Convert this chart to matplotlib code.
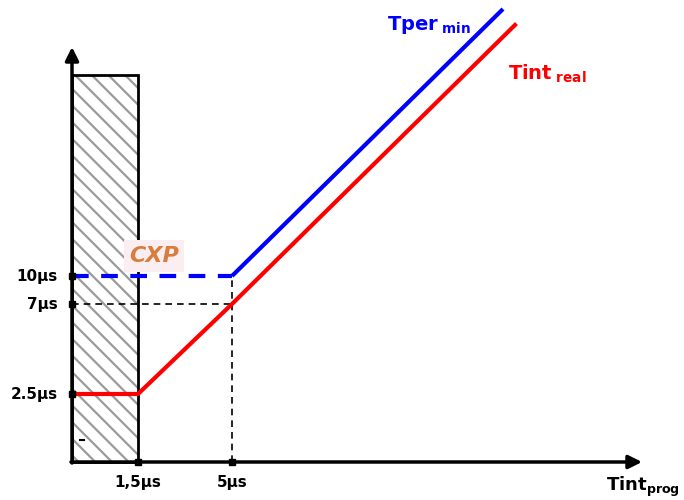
import matplotlib.pyplot as plt
from matplotlib.patches import Rectangle

# schematic diagram: values are positions along the drawn axes (origin at the corner)
tick_x_pos = [66, 160]
tick_x_labels = ["1,5µs", "5µs"]
tick_y_pos = [68, 158, 186]
tick_y_labels = ["2.5µs", "7µs", "10µs"]

# Tper min: flat (dashed) then rising
tper_flat_x = [0, 160]
tper_flat_y = [186, 186]
tper_rise_x = [160, 431]
tper_rise_y = [186, 453]

# Tint real
tint_x = [0, 66, 160, 443]
tint_y = [68, 68, 158, 437]

# forbidden zone (hatched)
zone_width = 66
zone_height = 387

x_arrow_end = 570
y_arrow_end = 415

plt.rcParams["hatch.linewidth"] = 1.6

fig = plt.figure(figsize=(6.84, 5), dpi=100)
ax = fig.add_axes([0, 0, 1, 1])
ax.set_xlim(-72, 612)
ax.set_ylim(-38, 462)
ax.axis("off")

font = dict(family="DejaVu Sans", fontweight="bold")

# hatched zone
ax.add_patch(Rectangle((0, 0), zone_width, zone_height, facecolor="white",
                       edgecolor="#9a9a9a", hatch="\\\\", linewidth=0, zorder=1))
ax.add_patch(Rectangle((0, 0), zone_width, zone_height, fill=False,
                       edgecolor="black", linewidth=2, zorder=2))
ax.plot([8, 12], [22, 22], color="black", lw=1.5, zorder=2)

# guide lines
ax.plot([0, tint_x[2]], [tint_y[2], tint_y[2]], color="black", lw=1.2,
        ls=(0, (4, 3)), zorder=3)
ax.plot([tper_flat_x[1], tper_flat_x[1]], [0, tper_flat_y[1]], color="black",
        lw=1.2, ls=(0, (4, 3)), zorder=3)

# curves
ax.plot(tper_flat_x, tper_flat_y, color="#0000ff", lw=3, ls=(0, (4, 3)),
        zorder=4)
ax.plot(tper_rise_x, tper_rise_y, color="#0000ff", lw=3,
        solid_capstyle="butt", zorder=4)
ax.plot(tint_x, tint_y, color="#ff0000", lw=3, solid_joinstyle="miter",
        zorder=4)

# axes with arrows
ax.annotate("", xy=(x_arrow_end, 0), xytext=(-1, 0),
            arrowprops=dict(arrowstyle="-|>", lw=2.5, color="black",
                            mutation_scale=20, shrinkA=0, shrinkB=0), zorder=5)
ax.annotate("", xy=(0, y_arrow_end), xytext=(0, -1),
            arrowprops=dict(arrowstyle="-|>", lw=2.5, color="black",
                            mutation_scale=20, shrinkA=0, shrinkB=0), zorder=5)

# tick squares and labels
ax.plot([0] * len(tick_y_pos), tick_y_pos, "s", color="black", ms=5, zorder=6)
ax.plot(tick_x_pos, [0] * len(tick_x_pos), "s", color="black", ms=5, zorder=6)
for y, lab in zip(tick_y_pos, tick_y_labels):
    ax.text(-14, y, lab, ha="right", va="center", fontsize=11, **font)
for x, lab in zip(tick_x_pos, tick_x_labels):
    ax.text(x, -20, lab, ha="center", va="center", fontsize=11, **font)

# curve labels
ax.text(315, 437, r"Tper$_{\ \mathregular{min}}$", color="#0000ff",
        fontsize=14, ha="left", va="center", **font)
ax.text(436, 388, r"Tint$_{\ \mathregular{real}}$", color="#ff0000",
        fontsize=14, ha="left", va="center", **font)
ax.text(608, -25, r"Tint$_{\mathregular{prog}}$", color="black",
        fontsize=13, ha="right", va="center", **font)

# logo watermark
ax.text(82, 206, "CXP", color="#d2691e", fontsize=16, fontstyle="italic",
        ha="center", va="center", alpha=0.85, family="DejaVu Sans",
        fontweight="bold",
        bbox=dict(boxstyle="square,pad=0.25", facecolor="#fbeef0",
                  edgecolor="none"), zorder=3)

fig.savefig("out.png", dpi=100)
